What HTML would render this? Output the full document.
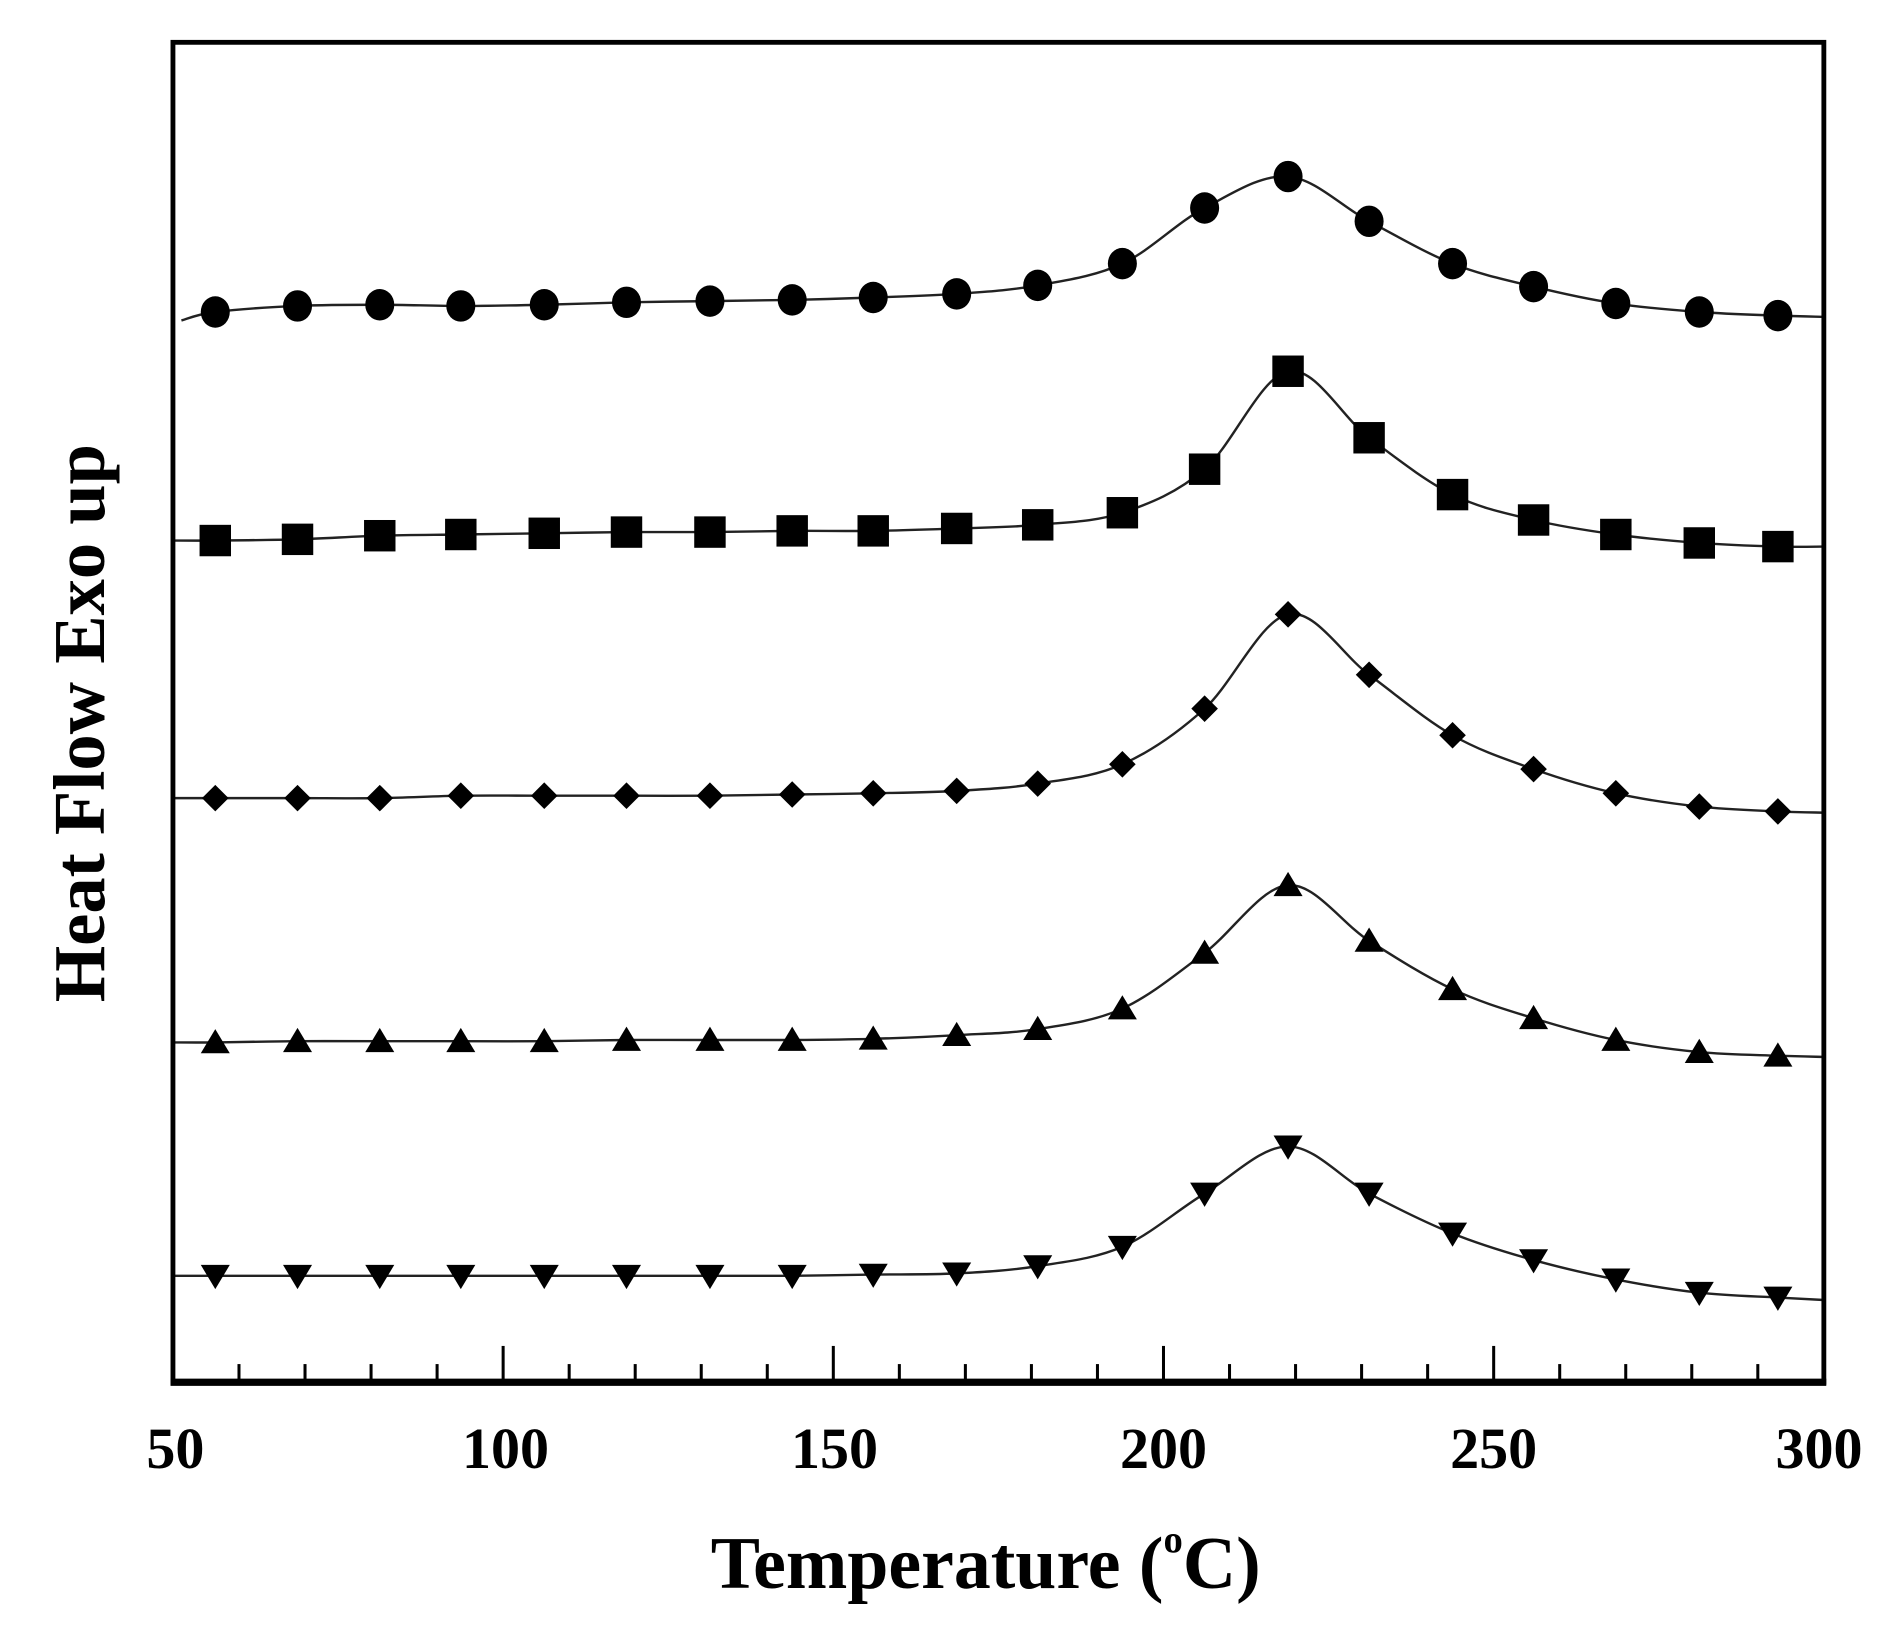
<!DOCTYPE html>
<html><head><meta charset="utf-8"><style>html,body{margin:0;padding:0;background:#fff}svg{display:block}</style></head>
<body>
<svg id="s" width="1894" height="1641" viewBox="0 0 1566 1357" preserveAspectRatio="none" xmlns="http://www.w3.org/2000/svg">
<rect width="1566" height="1357" fill="#fff"/>
<g id="plot"></g>
<rect x="143" y="35" width="1365" height="1108" fill="none" stroke="#000" stroke-width="4"/>
<line x1="141" y1="1143" x2="1510" y2="1143" stroke="#000" stroke-width="6"/>
<g id="ticks" stroke="#000" stroke-width="2.5"></g>
<g font-family="Liberation Serif, serif" font-weight="bold" font-size="48" text-anchor="middle" fill="#000">
<text x="145" y="1214">50</text><text x="418" y="1214">100</text><text x="690" y="1214">150</text>
<text x="962" y="1214">200</text><text x="1235" y="1214">250</text><text x="1504" y="1214">300</text>
</g>
<text x="815" y="1313" font-family="Liberation Serif, serif" font-weight="bold" font-size="61" text-anchor="middle">Temperature (<tspan font-size="32" dy="-29">o</tspan><tspan dy="29">C)</tspan></text>
<text transform="translate(86,598) rotate(-90)" font-family="Liberation Serif, serif" font-weight="bold" font-size="60" text-anchor="middle">Heat Flow Exo up</text>
</svg>
<script>
var NS="http://www.w3.org/2000/svg";
var xs=[178,246,314,381,450,518,587,655,722,791,858,928,996,1065,1132,1201,1268,1336,1405,1470];
var S=[
{m:'c',y0:[150,265],ye:262,y:[258,253,252,253,252,250,249,248,246,243,236,218,172,146,183,218,237,251,258,261]},
{m:'s',y0:[143,447],ye:452,y:[447,446,443,442,441,440,440,439,439,437,434,424,388,307,362,409,430,442,449,452]},
{m:'d',y0:[143,660],ye:672,y:[660,660,660,658,658,658,658,657,656,654,648,632,586,508,558,608,636,656,667,671]},
{m:'u',y0:[143,862],ye:874,y:[862,861,861,861,861,860,860,860,859,856,851,834,788,732,778,818,842,860,870,873]},
{m:'v',y0:[143,1055],ye:1075,y:[1055,1055,1055,1055,1055,1055,1055,1055,1054,1053,1047,1031,987,948,987,1020,1042,1058,1069,1073]}];
var g=document.getElementById('plot');
function el(n,a){var e=document.createElementNS(NS,n);for(var k in a)e.setAttribute(k,a[k]);g.appendChild(e);return e;}
S.forEach(function(s){
 var p=[[s.y0[0],s.y0[1]]];xs.forEach(function(x,i){p.push([x,s.y[i]]);});p.push([1508,s.ye]);
 var d='M'+p[0][0]+','+p[0][1];
 for(var i=0;i<p.length-1;i++){var a=p[i-1]||p[i],b=p[i],c=p[i+1],e=p[i+2]||c;
  d+=' C'+(b[0]+(c[0]-a[0])/6)+','+(b[1]+(c[1]-a[1])/6)+' '+(c[0]-(e[0]-b[0])/6)+','+(c[1]-(e[1]-b[1])/6)+' '+c[0]+','+c[1];}
 el('path',{d:d,fill:'none',stroke:'#222','stroke-width':2});
 xs.forEach(function(x,i){var y=s.y[i];
  if(s.m=='c')el('ellipse',{cx:x,cy:y,rx:12,ry:13,fill:'#000'});
  else if(s.m=='s')el('rect',{x:x-13,y:y-13,width:26,height:26,fill:'#000'});
  else if(s.m=='d')el('polygon',{points:(x)+','+(y-11)+' '+(x+11)+','+y+' '+x+','+(y+11)+' '+(x-11)+','+y,fill:'#000'});
  else if(s.m=='u')el('polygon',{points:x+','+(y-11)+' '+(x+12)+','+(y+9)+' '+(x-12)+','+(y+9),fill:'#000'});
  else el('polygon',{points:x+','+(y+11)+' '+(x+12)+','+(y-9)+' '+(x-12)+','+(y-9),fill:'#000'});
 });
});
var t=document.getElementById('ticks');
for(var v=60;v<300;v+=10){var x=143+(v-50)*5.46;var L=(v%50==0)?30:15;
 var l=document.createElementNS(NS,'line');l.setAttribute('x1',x);l.setAttribute('x2',x);l.setAttribute('y1',1143);l.setAttribute('y2',1143-L);t.appendChild(l);}
</script>
</body></html>
